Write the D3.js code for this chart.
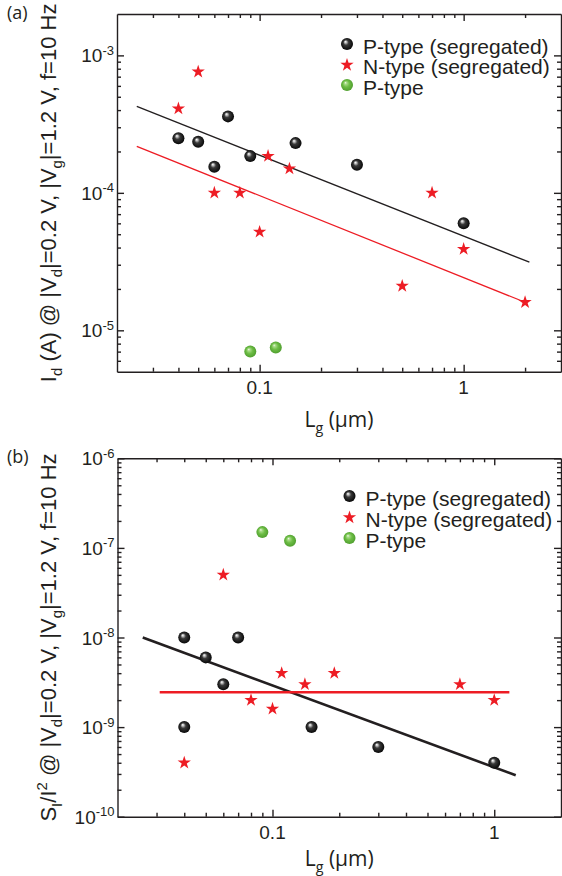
<!DOCTYPE html>
<html>
<head>
<meta charset="utf-8">
<script src="https://cdn.jsdelivr.net/npm/d3@7"></script>
<style>
  body { margin: 0; background: #fff; }
  svg { display: block; }
  .axis path, .axis line { stroke: #231f20; stroke-width: 1.4; fill: none; }
  .tick-label { font-family: "Liberation Sans", Arial, sans-serif; font-size: 19px; fill: #231f20; }
  .legend text { font-family: "Liberation Sans", Arial, sans-serif; font-size: 21px; fill: #231f20; }
  .y-title { font-family: "Liberation Sans", Arial, sans-serif; font-size: 22px; fill: #231f20; }
  .x-title { font-family: "Open Sans", sans-serif; font-size: 21px; fill: #231f20; }
  .panel-label { font-family: "Open Sans", sans-serif; font-size: 18px; fill: #231f20; }
</style>
</head>
<body>
<svg id="chart" width="562" height="876"></svg>
<script>
// ---- data (a): drain current vs gate length ----
const lgA_P = [0.04, 0.05, 0.07, 0.15, 0.06, 0.09, 0.3, 1];
const idA_P = [2.5e-4, 2.35e-4, 3.6e-4, 2.3e-4, 1.55e-4, 1.85e-4, 1.6e-4, 6e-5];
const lgA_N = [0.05, 0.04, 0.11, 0.14, 0.06, 0.08, 0.1, 0.7, 1, 0.5, 2];
const idA_N = [7.6e-4, 4.1e-4, 1.85e-4, 1.5e-4, 1e-4, 1e-4, 5.2e-5, 1e-4, 3.9e-5, 2.1e-5, 1.6e-5];
const lgA_G = [0.09, 0.12];
const idA_G = [7e-6, 7.5e-6];
const fitA_P_x = [0.025, 2.1], fitA_P_y = [4.25e-4, 3.13e-5];
const fitA_N_x = [0.025, 2.0], fitA_N_y = [2.18e-4, 1.6e-5];

// ---- data (b): normalized noise vs gate length ----
const lgB_P = [0.04, 0.07, 0.05, 0.06, 0.04, 0.15, 0.3, 1];
const sB_P = [1e-8, 1e-8, 6e-9, 3e-9, 1e-9, 1e-9, 6e-10, 4e-10];
const lgB_N = [0.06, 0.11, 0.19, 0.14, 0.08, 0.1, 0.7, 1, 0.04];
const sB_N = [5e-8, 4e-9, 4e-9, 3e-9, 2e-9, 1.6e-9, 3e-9, 2e-9, 4e-10];
const lgB_G = [0.09, 0.12];
const sB_G = [1.5e-7, 1.2e-7];
const fitB_P_x = [0.026, 1.25], fitB_P_y = [1e-8, 2.9e-10];
const fitB_N_x = [0.031, 1.17], fitB_N_y = [2.45e-9, 2.45e-9];

const legendLabels = ['P-type (segregated)', 'N-type (segregated)', 'P-type'];

const RED = '#ed1c24';
const INK = '#231f20';

const svg = d3.select('#chart');
const defs = svg.append('defs');

function sphereGradient(id, stops) {
  const g = defs.append('radialGradient')
    .attr('id', id)
    .attr('cx', '50%').attr('cy', '50%').attr('r', '55%')
    .attr('fx', '36%').attr('fy', '30%');
  stops.forEach(([o, c]) => g.append('stop').attr('offset', o).attr('stop-color', c));
}
sphereGradient('gBlack', [[0, '#ffffff'], [0.14, '#c8c8c8'], [0.4, '#3a3a3a'], [1, '#000000']]);
sphereGradient('gGreen', [[0, '#f2faec'], [0.18, '#a8dc88'], [0.5, '#6dbd45'], [1, '#4b9a2b']]);

const star = d3.symbol().type(d3.symbolStar).size(55);

// tspans for sub/superscripts
function richText(sel, parts, size, subSize) {
  let shift = 0;
  parts.forEach(([t, mode]) => {
    const want = mode === 'sub' ? 0.28 * size : mode === 'sup' ? -0.4 * size : 0;
    sel.append('tspan')
      .attr('dy', want - shift)
      .style('font-size', mode ? (subSize || 0.68 * size) + 'px' : null)
      .text(t);
    shift = want;
  });
}

function logTicks(domain) {
  const majors = [], minors = [];
  const lo = Math.floor(Math.log10(domain[0])), hi = Math.ceil(Math.log10(domain[1]));
  for (let e = lo; e <= hi; e++) {
    const b = +Math.pow(10, e).toPrecision(3);
    if (b >= domain[0] * 0.999 && b <= domain[1] * 1.001) majors.push(b);
    for (let k = 2; k <= 9; k++) {
      const v = +(k * b).toPrecision(3);
      if (v > domain[0] * 1.001 && v < domain[1] * 0.999) minors.push(v);
    }
  }
  return { majors, minors };
}

const panels = [
  {
    label: '(a)', labelY: 19,
    xDomain: [0.02, 3], yDomain: [5e-6, 2e-3],
    left: 117, right: 561, top: 14, bottom: 371.7,
    fits: [[fitA_P_x, fitA_P_y, INK], [fitA_N_x, fitA_N_y, RED]], fitWidth: 1.3,
    black: [lgA_P, idA_P], red: [lgA_N, idA_N], green: [lgA_G, idA_G],
    yTitle: [['I'], ['d', 'sub'], [' (A) @ |V'], ['d', 'sub'], ['|=0.2 V, |V'], ['g', 'sub'], ['|=1.2 V, f=10 Hz']],
    legendX: 347, legendY: [46, 66.5, 87], xTitleY: 427
  },
  {
    label: '(b)', labelY: 463,
    xDomain: [0.02, 2], yDomain: [1e-10, 1e-6],
    left: 117.5, right: 561, top: 458.3, bottom: 816.7,
    fits: [[fitB_P_x, fitB_P_y, INK], [fitB_N_x, fitB_N_y, RED]], fitWidth: 2.6,
    black: [lgB_P, sB_P], red: [lgB_N, sB_N], green: [lgB_G, sB_G],
    yTitle: [['S'], ['I', 'sub'], ['/I'], ['2', 'sup'], [' @ |V'], ['d', 'sub'], ['|=0.2 V, |V'], ['g', 'sub'], ['|=1.2 V, f=10 Hz']],
    legendX: 349.5, legendY: [498, 519, 540], xTitleY: 866
  }
];

panels.forEach(p => {
  const x = d3.scaleLog().domain(p.xDomain).range([p.left, p.right]);
  const y = d3.scaleLog().domain(p.yDomain).range([p.bottom, p.top]);
  const g = svg.append('g');

  const xt = logTicks(p.xDomain), yt = logTicks(p.yDomain);

  // axes: all four sides, ticks pointing inward
  const sides = [
    [d3.axisBottom, x, `translate(0,${p.bottom})`, xt],
    [d3.axisTop, x, `translate(0,${p.top})`, xt],
    [d3.axisLeft, y, `translate(${p.left},0)`, yt],
    [d3.axisRight, y, `translate(${p.right},0)`, yt]
  ];
  sides.forEach(([mk, sc, tr, t]) => {
    g.append('g').attr('class', 'axis').attr('transform', tr)
      .call(mk(sc).tickValues(t.minors).tickSizeInner(-4).tickSizeOuter(0).tickFormat(''))
      .call(a => a.select('.domain').remove());
    g.append('g').attr('class', 'axis').attr('transform', tr)
      .call(mk(sc).tickValues(t.majors).tickSizeInner(-7).tickSizeOuter(0).tickFormat(''));
  });

  // tick labels
  g.selectAll('text.xl').data(xt.majors).join('text')
    .attr('class', 'tick-label xl')
    .attr('x', d => x(d))
    .attr('y', p.bottom + 22)
    .attr('text-anchor', 'middle')
    .text(d => String(d));

  g.selectAll('text.yl').data(yt.majors).join('text')
    .attr('class', 'tick-label yl')
    .attr('x', p.left - 3)
    .attr('y', d => y(d) + 7)
    .attr('text-anchor', 'end')
    .each(function (d) {
      richText(d3.select(this), [['10'], [String(Math.round(Math.log10(d))), 'sup']], 19, 13);
    });

  // titles
  const yTitle = g.append('text').attr('class', 'y-title')
    .attr('transform', `translate(56,${(p.top + p.bottom) / 2}) rotate(-90)`)
    .attr('text-anchor', 'middle');
  richText(yTitle, p.yTitle, 22);

  const xTitle = g.append('text').attr('class', 'x-title')
    .attr('x', (p.left + p.right) / 2).attr('y', p.xTitleY)
    .attr('text-anchor', 'middle');
  richText(xTitle, [['L'], ['g', 'sub'], [' (µm)']], 21);

  g.append('text').attr('class', 'panel-label')
    .attr('x', 7).attr('y', p.labelY).text(p.label);

  // fit lines
  const line = d3.line().x(d => x(d[0])).y(d => y(d[1]));
  p.fits.forEach(([fx, fy, color]) => {
    g.append('path')
      .datum(d3.zip(fx, fy))
      .attr('d', line)
      .attr('fill', 'none')
      .attr('stroke', color)
      .attr('stroke-width', p.fitWidth);
  });

  // markers
  g.append('g').selectAll('circle').data(d3.zip(...p.black)).join('circle')
    .attr('cx', d => x(d[0])).attr('cy', d => y(d[1])).attr('r', 6)
    .attr('fill', 'url(#gBlack)');
  g.append('g').selectAll('path').data(d3.zip(...p.red)).join('path')
    .attr('transform', d => `translate(${x(d[0])},${y(d[1])})`)
    .attr('d', star).attr('fill', RED);
  g.append('g').selectAll('circle').data(d3.zip(...p.green)).join('circle')
    .attr('cx', d => x(d[0])).attr('cy', d => y(d[1])).attr('r', 6)
    .attr('fill', 'url(#gGreen)');

  // legend
  const lg = g.append('g').attr('class', 'legend');
  legendLabels.forEach((txt, i) => {
    const ly = p.legendY[i];
    if (i === 1) {
      lg.append('path').attr('transform', `translate(${p.legendX},${ly - 1.5})`)
        .attr('d', star).attr('fill', RED);
    } else {
      lg.append('circle').attr('cx', p.legendX).attr('cy', ly - 2).attr('r', 6)
        .attr('fill', i === 0 ? 'url(#gBlack)' : 'url(#gGreen)');
    }
    lg.append('text').attr('x', p.legendX + 16).attr('y', ly + 7.5).text(txt);
  });
});
</script>
</body>
</html>
